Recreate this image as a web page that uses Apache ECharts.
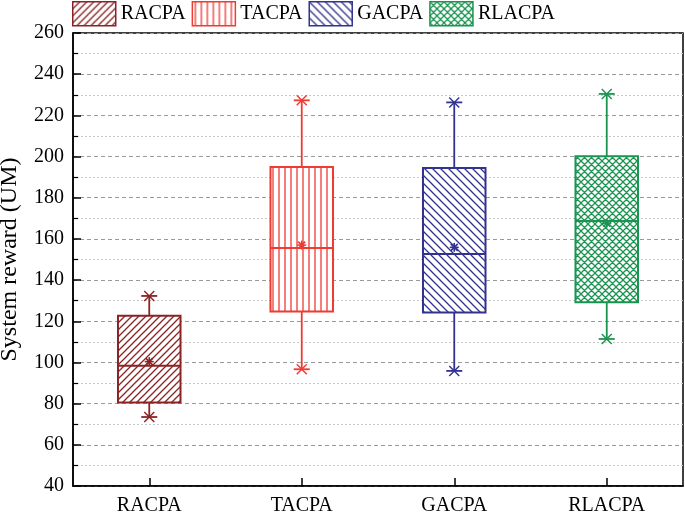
<!DOCTYPE html>
<html>
<head>
<meta charset="utf-8">
<script src="https://cdn.jsdelivr.net/npm/echarts@6/dist/echarts.min.js"></script>
<style>html,body{margin:0;padding:0;background:#fff;}#c{width:685px;height:512px;}</style>
</head>
<body>
<div id="c"></div>
<script>
const categories = ['RACPA', 'TACPA', 'GACPA', 'RLACPA'];
const mins    = [73.5, 96.7, 95.9, 111.4];
const q1s     = [80.5, 124.8, 124.2, 129.2];
const medians = [98.4, 155.6, 152.7, 168.7];
const q3s     = [122.7, 194.9, 194.4, 200.1];
const maxs    = [132.3, 227.3, 226.3, 230.4];
const means   = [100.4, 157.0, 155.9, 167.6];
const yTicks  = [40, 60, 80, 100, 120, 140, 160, 180, 200, 220, 240, 260];
const colors  = ['#8b2323', '#ee3b33', '#32338f', '#1a9450'];
const hatchKinds = ['slash', 'vertical', 'backslash', 'cross'];

const FONT = '"Liberation Serif", "Times New Roman", serif';

function makePattern(kind, color) {
  const s = kind === 'vertical' ? 6 : (kind === 'backslash' ? 8 : 7);
  const cv = document.createElement('canvas');
  cv.width = s; cv.height = s;
  const ctx = cv.getContext('2d');
  ctx.fillStyle = '#ffffff';
  ctx.fillRect(0, 0, s, s);
  ctx.strokeStyle = color;
  ctx.lineWidth = 1.3;
  ctx.beginPath();
  if (kind === 'vertical') {
    ctx.moveTo(s / 2, 0); ctx.lineTo(s / 2, s);
  }
  if (kind === 'slash' || kind === 'cross') {
    ctx.moveTo(-1, s + 1); ctx.lineTo(s + 1, -1);
    ctx.moveTo(-1, 1); ctx.lineTo(1, -1);
    ctx.moveTo(s - 1, s + 1); ctx.lineTo(s + 1, s - 1);
  }
  if (kind === 'backslash' || kind === 'cross') {
    ctx.moveTo(-1, -1); ctx.lineTo(s + 1, s + 1);
    ctx.moveTo(s - 1, -1); ctx.lineTo(s + 1, 1);
    ctx.moveTo(-1, s - 1); ctx.lineTo(1, s + 1);
  }
  ctx.stroke();
  return { image: cv, repeat: 'repeat' };
}

const patterns = categories.map((c, i) => makePattern(hatchKinds[i], colors[i]));

function renderBox(params, api) {
  const idx = api.value(0);
  const color = colors[idx];
  const pat = patterns[idx];
  const pMin = api.coord([idx, api.value(1)]);
  const pQ1 = api.coord([idx, api.value(2)]);
  const pMed = api.coord([idx, api.value(3)]);
  const pQ3 = api.coord([idx, api.value(4)]);
  const pMax = api.coord([idx, api.value(5)]);
  const pMean = api.coord([idx, api.value(6)]);
  const bw = api.size([1, 0])[0] * 0.41;
  const cx = pMed[0];
  const capW = 8;
  const lw = 1.8;
  const stroke = { stroke: color, lineWidth: lw, fill: null };
  function star(y, r, w) {
    return [
      { type: 'line', shape: { x1: cx - r, y1: y - r, x2: cx + r, y2: y + r }, style: { stroke: color, lineWidth: w } },
      { type: 'line', shape: { x1: cx - r, y1: y + r, x2: cx + r, y2: y - r }, style: { stroke: color, lineWidth: w } }
    ];
  }
  const children = [
    { type: 'line', shape: { x1: cx, y1: pQ3[1], x2: cx, y2: pMax[1] }, style: stroke },
    { type: 'line', shape: { x1: cx, y1: pQ1[1], x2: cx, y2: pMin[1] }, style: stroke },
    { type: 'line', shape: { x1: cx - capW, y1: pMax[1], x2: cx + capW, y2: pMax[1] }, style: stroke },
    { type: 'line', shape: { x1: cx - capW, y1: pMin[1], x2: cx + capW, y2: pMin[1] }, style: stroke },
    { type: 'rect', shape: { x: cx - bw / 2, y: pQ3[1], width: bw, height: pQ1[1] - pQ3[1] },
      style: { fill: pat, stroke: color, lineWidth: 2 } },
    { type: 'line', shape: { x1: cx - bw / 2, y1: pMed[1], x2: cx + bw / 2, y2: pMed[1] }, style: { stroke: color, lineWidth: 2 } },
    { type: 'line', shape: { x1: cx - 4.5, y1: pMean[1], x2: cx + 4.5, y2: pMean[1] }, style: { stroke: color, lineWidth: 1.6 } },
    { type: 'line', shape: { x1: cx, y1: pMean[1] - 4.5, x2: cx, y2: pMean[1] + 4.5 }, style: { stroke: color, lineWidth: 1.6 } }
  ].concat(star(pMax[1], 5, 1.4), star(pMin[1], 5, 1.4), star(pMean[1], 3.5, 1.6));
  return { type: 'group', children: children };
}

const series = categories.map((name, i) => ({
  name: name,
  type: 'custom',
  renderItem: renderBox,
  itemStyle: { color: patterns[i], borderColor: colors[i], borderWidth: 1.5 },
  encode: { x: 0, y: [1, 2, 3, 4, 5, 6] },
  data: [[i, mins[i], q1s[i], medians[i], q3s[i], maxs[i], means[i]]],
  z: 3
}));

const chart = echarts.init(document.getElementById('c'), null, { renderer: 'canvas' });
chart.setOption({
  animation: false,
  backgroundColor: '#ffffff',
  textStyle: { fontFamily: FONT },
  legend: {
    left: 72, top: 1, padding: 0,
    icon: 'rect',
    itemWidth: 43, itemHeight: 24, itemGap: 6,
    textStyle: { fontFamily: FONT, fontSize: 20, color: '#000' },
    data: categories.map((name, i) => ({
      name: name,
      itemStyle: { color: patterns[i], borderColor: colors[i], borderWidth: 1.5 }
    }))
  },
  grid: {
    left: 73, right: 2, top: 33, bottom: 26,
    outerBoundsMode: 'none',
    containLabel: false,
    show: true, borderColor: '#000', borderWidth: 1.5, backgroundColor: 'transparent'
  },
  xAxis: {
    type: 'category',
    data: categories,
    boundaryGap: true,
    axisLine: { show: true, lineStyle: { color: '#000', width: 1.5 } },
    axisTick: { show: true, inside: true, length: 8, alignWithLabel: true, lineStyle: { color: '#000', width: 1.5 }, interval: 0 },
    axisLabel: { fontFamily: FONT, fontSize: 20, color: '#000', margin: 10 },
    splitLine: { show: false }
  },
  yAxis: {
    type: 'value',
    min: yTicks[0], max: yTicks[yTicks.length - 1], interval: 20,
    name: 'System reward (UM)',
    nameLocation: 'middle',
    nameGap: 51,
    nameTextStyle: { fontFamily: FONT, fontSize: 24, color: '#000' },
    axisLine: { show: true, lineStyle: { color: '#000', width: 1.5 } },
    axisTick: { show: true, inside: true, length: 8, lineStyle: { color: '#000', width: 1.5 } },
    minorTick: { show: true, splitNumber: 2, length: 5, lineStyle: { color: '#000', width: 1.2 } },
    axisLabel: { fontFamily: FONT, fontSize: 20, color: '#000', margin: 9 },
    splitLine: { show: true, lineStyle: { color: '#9a9a9a', width: 1, type: [4, 3] } },
    minorSplitLine: { show: true, lineStyle: { color: '#c8c8c8', width: 1, type: [2, 2] } }
  },
  series: series
});
</script>
</body>
</html>
